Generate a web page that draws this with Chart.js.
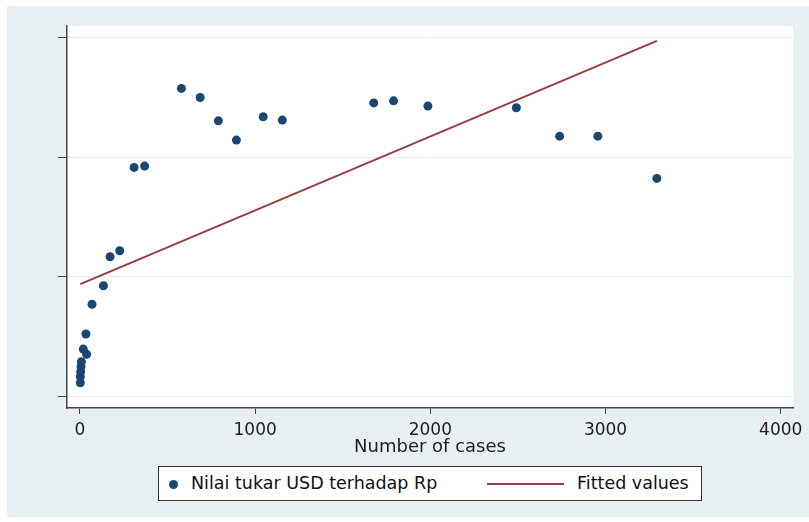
<!DOCTYPE html>
<html lang="en">
<head>
    <meta charset="UTF-8">
    <title>Nilai tukar USD vs Number of cases</title>
    <script src="https://cdn.jsdelivr.net/npm/chart.js"></script>
    <style>
        body {
            margin: 0;
            background: #fff;
            font-family: 'DejaVu Sans', sans-serif;
        }
        .wrap {
            position: relative;
            width: 809px;
            height: 522px;
        }
        .legend {
            position: absolute;
            left: 158px;
            top: 466px;
            width: 542px;
            height: 33px;
            border: 1px solid #333;
            background: #fff;
            font-size: 17.5px;
            color: #111;
        }
        .legend span { position: absolute; top: 6px; white-space: nowrap; }
        .legend .dot {
            position: absolute; left: 10px; top: 13px;
            width: 9px; height: 9px; border-radius: 50%; background: #1a476f;
        }
        .legend .ln {
            position: absolute; left: 328px; top: 16px;
            width: 77px; height: 2px; background: #963d42;
        }
    </style>
</head>
<body>
<div class="wrap">
    <canvas id="chart" width="809" height="522"></canvas>
    <div class="legend">
        <div class="dot"></div><span style="left:32px">Nilai tukar USD terhadap Rp</span>
        <div class="ln"></div><span style="left:418px">Fitted values</span>
    </div>
</div>
<script>
    // number of cases (x) and exchange rate (y)
    const cases = [2, 2, 4, 6, 8, 19, 38, 34, 69, 134, 172, 227, 309, 369,
        579, 686, 790, 893, 1046, 1155, 1677, 1790, 1986, 2491, 2738, 2956, 3293];
    const rates = [14115, 14165, 14207, 14249, 14290, 14396, 14352, 14522, 14770, 14925, 15167, 15217, 15913, 15924,
        16573, 16497, 16302, 16141, 16336, 16308, 16452, 16469, 16425, 16411, 16174, 16174, 15821];
    const fitX = [2, 3293];
    const fitY = [14939, 16970];
    const xTicks = [0, 1000, 2000, 3000, 4000];
    const yTicks = [14000, 15000, 16000, 17000];

    const bgPlugin = {
        id: 'bg',
        beforeDraw(chart) {
            const {ctx, chartArea: a} = chart;
            ctx.save();
            ctx.fillStyle = '#e8eff2';
            ctx.fillRect(7, 6, 802, 511);
            ctx.fillStyle = '#fff';
            ctx.fillRect(a.left, a.top, a.right - a.left, a.bottom - a.top);
            ctx.restore();
        }
    };

    new Chart(document.getElementById('chart'), {
        type: 'scatter',
        data: {
            datasets: [{
                label: 'Nilai tukar USD terhadap Rp',
                data: cases.map((c, i) => ({x: c, y: rates[i]})),
                pointRadius: 4.5,
                pointBorderWidth: 0,
                backgroundColor: '#1a476f',
                borderColor: '#1a476f'
            }, {
                type: 'line',
                label: 'Fitted values',
                data: fitX.map((v, i) => ({x: v, y: fitY[i]})),
                borderColor: '#963d42',
                borderWidth: 2,
                pointRadius: 0,
                fill: false
            }]
        },
        options: {
            responsive: false,
            animation: false,
            layout: {padding: {left: 57, top: 26, right: 16, bottom: 64}},
            plugins: {legend: {display: false}, tooltip: {enabled: false}},
            scales: {
                x: {
                    type: 'linear',
                    min: -74,
                    max: 4070,
                    afterBuildTicks: s => { s.ticks = xTicks.map(v => ({value: v})); },
                    afterFit: s => { s.height = 50; },
                    grid: {drawOnChartArea: false, tickLength: 6, tickColor: '#444'},
                    border: {color: '#444', width: 1.5},
                    ticks: {
                        color: '#1e1e1e', padding: 6, maxRotation: 0,
                        font: {family: 'DejaVu Sans', size: 17},
                        callback: v => String(v)
                    },
                    title: {
                        display: true, text: 'Number of cases', color: '#1e1e1e',
                        padding: {top: 0, bottom: 0},
                        font: {family: 'DejaVu Sans', size: 18}
                    }
                },
                y: {
                    min: 13904,
                    max: 17094,
                    afterBuildTicks: s => { s.ticks = yTicks.map(v => ({value: v})); },
                    afterFit: s => { s.width = 10; },
                    grid: {color: '#e6eff1', tickLength: 9, tickColor: '#444'},
                    border: {color: '#444', width: 1.5},
                    ticks: {display: false}
                }
            }
        },
        plugins: [bgPlugin]
    });
</script>
</body>
</html>
